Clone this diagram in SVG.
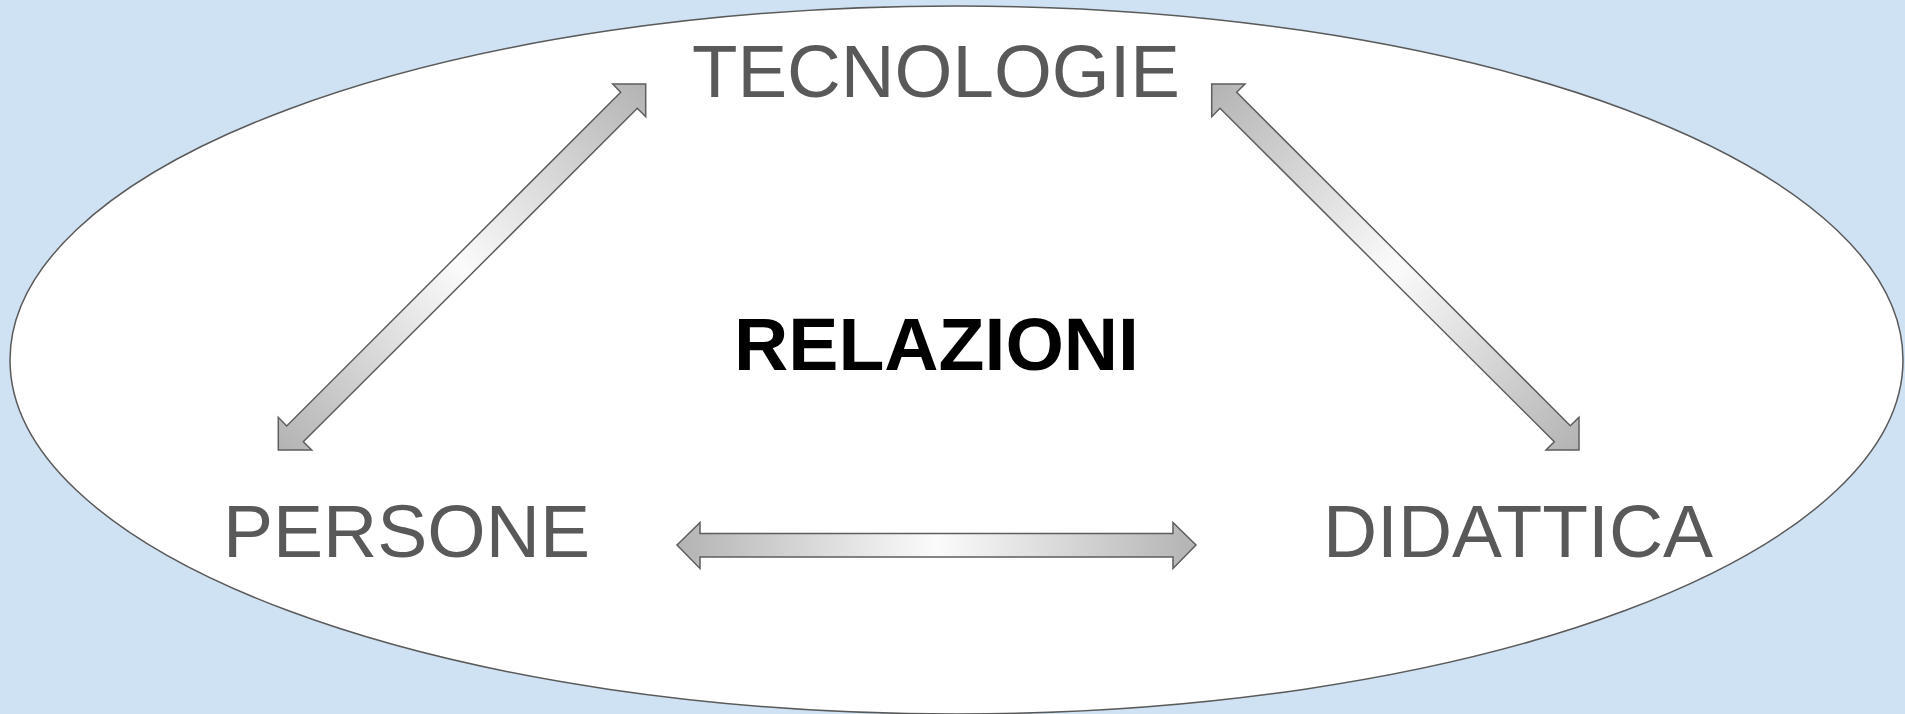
<svg xmlns="http://www.w3.org/2000/svg" width="1905" height="714" viewBox="0 0 1905 714">
<style>
.lbl{font-family:"Liberation Sans",Arial,sans-serif;font-size:74px;fill:#595959}
.ttl{font-family:"Liberation Sans",Arial,sans-serif;font-size:74px;font-weight:bold;fill:#000}
.arr{stroke:#5e5e5e;stroke-width:1.5;stroke-linejoin:miter}
</style>
<defs>
<linearGradient id="gd1" x1="0" y1="1" x2="1" y2="0">
<stop offset="0" stop-color="#b3b3b3"/><stop offset="0.5" stop-color="#fbfbfb"/><stop offset="1" stop-color="#b3b3b3"/>
</linearGradient>
<linearGradient id="gd2" x1="0" y1="0" x2="1" y2="1">
<stop offset="0" stop-color="#b3b3b3"/><stop offset="0.5" stop-color="#fbfbfb"/><stop offset="1" stop-color="#b3b3b3"/>
</linearGradient>
<linearGradient id="gh" x1="0" y1="0" x2="1" y2="0">
<stop offset="0" stop-color="#b3b3b3"/><stop offset="0.5" stop-color="#fbfbfb"/><stop offset="1" stop-color="#b3b3b3"/>
</linearGradient>
</defs>
<rect width="1905" height="714" fill="#cfe2f3"/>
<g id="frame">
<ellipse cx="956.5" cy="360" rx="946.5" ry="354" fill="#fff" stroke="#5a5a5a" stroke-width="1.5"/>
</g>
<g id="connectors">
<polygon class="arr" fill="url(#gd1)" points="645.7,84 645.7,116.7 637.3,108.3 303.3,441.7 311.7,450 278.3,450 278.3,417.3 286.7,426 620.7,92.3 612.7,84"/>
<polygon class="arr" fill="url(#gd2)" points="1211.7,84 1245,84 1236.7,92.3 1570.3,425.7 1579,417.3 1579,450 1546,450 1554.3,441.7 1220,108.3 1211.7,116.7"/>
<polygon class="arr" fill="url(#gh)" points="677,545 700,522.5 700,533.5 1173,533.5 1173,522.5 1196,545 1173,568.5 1173,557 700,557 700,568.5"/>
</g>
<g id="node-tecnologie"><text class="lbl" x="692" y="97" textLength="488" lengthAdjust="spacingAndGlyphs">TECNOLOGIE</text></g>
<g id="node-relazioni"><text class="ttl" x="734" y="370" textLength="405" lengthAdjust="spacingAndGlyphs">RELAZIONI</text></g>
<g id="node-persone"><text class="lbl" x="223" y="557" textLength="367" lengthAdjust="spacingAndGlyphs">PERSONE</text></g>
<g id="node-didattica"><text class="lbl" x="1323" y="557" textLength="390" lengthAdjust="spacingAndGlyphs">DIDATTICA</text></g>
</svg>
